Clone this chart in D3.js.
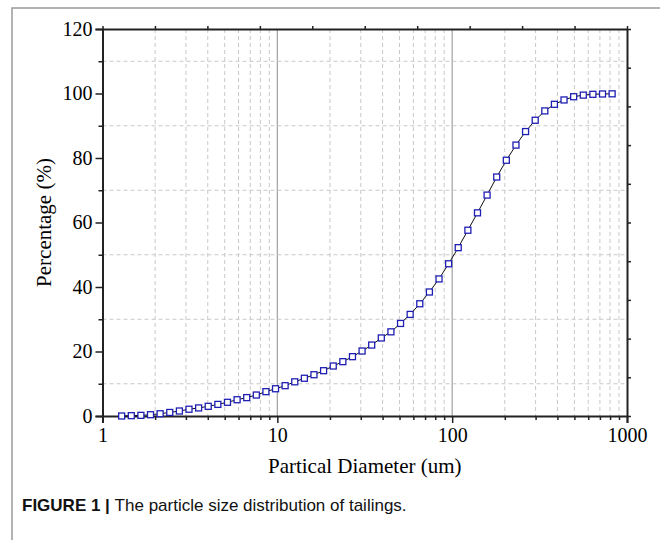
<!DOCTYPE html>
<html>
<head>
<meta charset="utf-8">
<script src="https://cdn.jsdelivr.net/npm/d3@7"></script>
<style>
  body { margin: 0; background: #fff; }
  svg text { font-family: "Liberation Serif", "Times New Roman", serif; }
</style>
</head>
<body>
<div id="chart"></div>
<script>
// particle diameter (um) and cumulative passing (%)
const diameter = [1.287, 1.461, 1.658, 1.882, 2.136, 2.425, 2.753, 3.124, 3.546, 4.025,
  4.569, 5.186, 5.886, 6.681, 7.583, 8.604, 9.766, 11.08, 12.58, 14.28,
  16.20, 18.39, 20.88, 23.70, 26.90, 30.53, 34.65, 39.33, 44.64, 50.67,
  57.51, 65.28, 74.09, 84.10, 95.45, 108.3, 123.0, 139.6, 158.4, 179.8,
  204.1, 231.7, 262.9, 298.5, 338.8, 384.5, 436.4, 495.4, 562.3, 638.2,
  724.4, 822.2];
const percentage = [0, 0.1, 0.2, 0.4, 0.7, 1.1, 1.55, 2.1, 2.5, 3.0,
  3.6, 4.25, 5.05, 5.7, 6.5, 7.55, 8.45, 9.4, 10.6, 11.7,
  12.8, 14.05, 15.5, 16.85, 18.4, 20.15, 22.0, 24.2, 26.1, 28.7,
  31.5, 34.8, 38.45, 42.5, 47.2, 52.2, 57.6, 63.0, 68.5, 74.1,
  79.3, 84.0, 88.2, 91.7, 94.6, 96.65, 98.0, 99.0, 99.5, 99.75,
  99.85, 99.9];

const xMajor = [1, 10, 100, 1000];
const xMinor = [2, 3, 4, 5, 6, 7, 8, 9, 20, 30, 40, 50, 60, 70, 80, 90, 200, 300, 400, 500, 600, 700, 800, 900];
const yMajor = [0, 20, 40, 60, 80, 100, 120];
const yMinor = [10, 30, 50, 70, 90, 110];

const xTitle = "Partical Diameter (um)";
const yTitle = "Percentage (%)";

const width = 660, height = 540;
const m = { left: 102.5, right: 627, top: 29, bottom: 416 };

const svg = d3.select("#chart").append("svg")
  .attr("width", width)
  .attr("height", height);

// outer figure frame
svg.append("path")
  .attr("d", `M12,${height} L12,8 L${width},8`)
  .attr("fill", "none")
  .attr("stroke", "#9a9a9a")
  .attr("stroke-width", 1.5);

const x = d3.scaleLog().domain([1, 1000]).range([m.left, m.right]);
const y = d3.scaleLinear().domain([0, 120]).range([m.bottom, m.top]);

// grid lines
svg.append("g").selectAll("line")
  .data(xMinor)
  .join("line")
  .attr("x1", d => x(d)).attr("x2", d => x(d))
  .attr("y1", m.top).attr("y2", m.bottom)
  .attr("stroke", "#c8c8c8")
  .attr("stroke-dasharray", "4,3");

svg.append("g").selectAll("line")
  .data([10, 100])
  .join("line")
  .attr("x1", d => x(d)).attr("x2", d => x(d))
  .attr("y1", m.top).attr("y2", m.bottom)
  .attr("stroke", "#a0a0a0")
  .attr("stroke-width", 1.2);

svg.append("g").selectAll("line")
  .data(yMinor)
  .join("line")
  .attr("x1", m.left).attr("x2", m.right)
  .attr("y1", d => y(d)).attr("y2", d => y(d))
  .attr("stroke", "#c8c8c8")
  .attr("stroke-dasharray", "4,3");

// axes
const axisColor = "#222";
const labelFont = g => g.attr("font-family", "Liberation Serif, Times New Roman, serif").attr("font-size", 20);

svg.append("g")
  .attr("transform", `translate(0,${m.bottom})`)
  .call(d3.axisBottom(x).tickValues(xMajor).tickFormat(d3.format("d")).tickSize(7).tickPadding(5))
  .call(labelFont);
svg.append("g")
  .attr("transform", `translate(0,${m.bottom})`)
  .call(d3.axisBottom(x).tickValues(xMinor).tickFormat("").tickSize(4))
  .call(g => g.select(".domain").remove());

svg.append("g")
  .attr("transform", `translate(${m.left},0)`)
  .call(d3.axisLeft(y).tickValues(yMajor).tickSize(7).tickPadding(3))
  .call(labelFont);
svg.append("g")
  .attr("transform", `translate(${m.left},0)`)
  .call(d3.axisLeft(y).tickValues(yMinor).tickFormat("").tickSize(4))
  .call(g => g.select(".domain").remove());

// top and right frame with plain ticks
const topScale = d3.scaleLinear().domain([0, 10]).range([m.left, m.right]);
const rightScale = d3.scaleLinear().domain([0, 10]).range([m.bottom, m.top]);
svg.append("g")
  .attr("transform", `translate(0,${m.top})`)
  .call(d3.axisTop(topScale).ticks(10).tickFormat("").tickSize(3).tickSizeOuter(0));
svg.append("g")
  .attr("transform", `translate(${m.right},0)`)
  .call(d3.axisRight(rightScale).ticks(10).tickFormat("").tickSize(4).tickSizeOuter(0));

svg.selectAll(".domain").attr("stroke", axisColor).attr("stroke-width", 2);
svg.selectAll(".tick line").attr("stroke", axisColor).attr("stroke-width", 1.5);
svg.selectAll(".tick text").attr("fill", "#000");

// curve
const line = d3.line()
  .x((d, i) => x(diameter[i]))
  .y(d => y(d));

svg.append("path")
  .datum(percentage)
  .attr("d", line)
  .attr("fill", "none")
  .attr("stroke", "#111")
  .attr("stroke-width", 1);

svg.append("g").selectAll("rect")
  .data(percentage)
  .join("rect")
  .attr("x", (d, i) => x(diameter[i]) - 3)
  .attr("y", d => y(d) - 3)
  .attr("width", 6)
  .attr("height", 6)
  .attr("fill", "#fff")
  .attr("stroke", "#1f1fb4")
  .attr("stroke-width", 1.3);

// titles
svg.append("text")
  .attr("x", (m.left + m.right) / 2)
  .attr("y", 473)
  .attr("text-anchor", "middle")
  .style("font-size", "21px")
  .text(xTitle);

svg.append("text")
  .attr("transform", `translate(51,${(m.top + m.bottom) / 2}) rotate(-90)`)
  .attr("text-anchor", "middle")
  .style("font-size", "21px")
  .text(yTitle);

// caption
const caption = svg.append("text")
  .attr("x", 22)
  .attr("y", 511)
  .style("font-family", "'Liberation Sans', Arial, sans-serif")
  .style("font-size", "17px")
  .attr("fill", "#111");
caption.append("tspan").attr("font-weight", "bold").text("FIGURE 1 | ");
caption.append("tspan").text("The particle size distribution of tailings.");
</script>
</body>
</html>
